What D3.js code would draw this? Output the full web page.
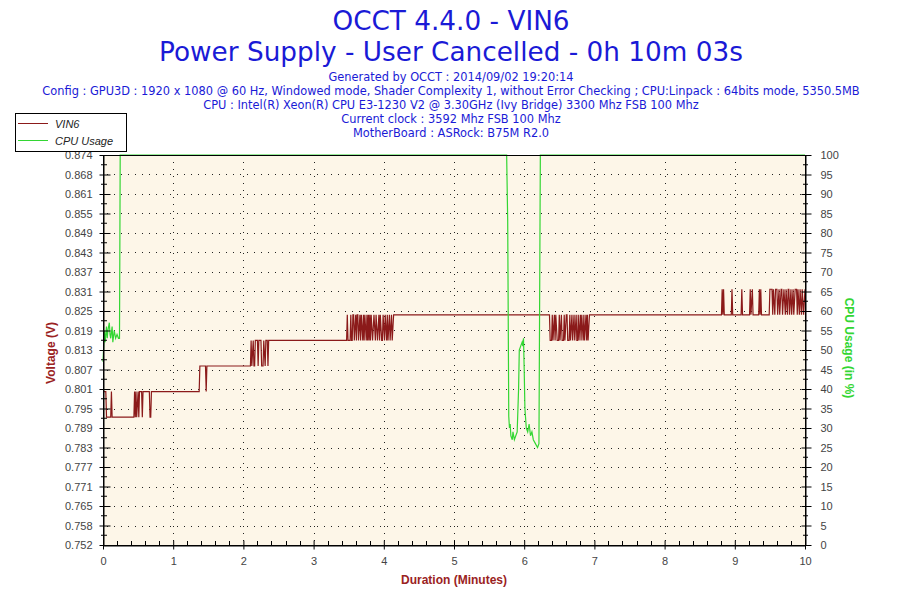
<!DOCTYPE html>
<html><head><meta charset="utf-8">
<script src="https://cdn.jsdelivr.net/npm/d3@7/dist/d3.min.js"></script>
<style>body{margin:0;background:#fff}svg{display:block}</style>
</head><body><svg id="c" width="900" height="600"></svg>
<script>
const titleLines = ["OCCT 4.4.0 - VIN6", "Power Supply - User Cancelled - 0h 10m 03s"];
const infoLines = [
  "Generated by OCCT : 2014/09/02 19:20:14",
  "Config : GPU3D : 1920 x 1080 @ 60 Hz, Windowed mode, Shader Complexity 1, without Error Checking ; CPU:Linpack : 64bits mode, 5350.5MB",
  "CPU : Intel(R) Xeon(R) CPU E3-1230 V2 @ 3.30GHz (Ivy Bridge) 3300 Mhz FSB 100 Mhz",
  "Current clock : 3592 Mhz FSB 100 Mhz",
  "MotherBoard : ASRock: B75M R2.0"
];
const seriesNames = ["VIN6", "CPU Usage"];
const voltTickLabels = ["0.752","0.758","0.765","0.771","0.777","0.783","0.789","0.795","0.801","0.807","0.813","0.819","0.825","0.831","0.837","0.843","0.849","0.855","0.861","0.868","0.874"];
const cpuTickLabels = ["0","5","10","15","20","25","30","35","40","45","50","55","60","65","70","75","80","85","90","95","100"];
const timeTickLabels = ["0","1","2","3","4","5","6","7","8","9","10"];

// VIN6 (V) samples: time in minutes, value in volts
const vinTime = [0.00,0.04,0.05,0.11,0.12,0.13,0.44,0.45,0.46,0.47,0.48,0.50,0.51,0.52,0.55,0.56,0.57,0.66,0.67,0.68,0.69,
  1.37,1.38,1.46,1.47,1.48,2.10,2.11,2.12,2.14,2.15,2.16,2.17,2.20,2.21,2.22,2.25,2.26,2.28,2.29,2.31,2.32,2.34,2.35,2.36,
  3.47,3.48,3.49,3.52,3.53,3.54,3.55,3.56,3.57,3.58,3.60,3.61,3.62,3.63,3.64,3.66,3.67,3.68,3.70,3.71,3.72,3.73,3.75,3.76,3.77,3.78,3.79,3.80,3.81,3.82,
  3.84,3.86,3.88,3.89,3.91,3.93,3.94,3.95,3.97,3.98,3.99,4.01,4.02,4.04,4.05,4.06,4.08,4.09,4.11,4.12,4.14,
  6.36,6.37,6.39,6.40,6.41,6.43,6.44,6.45,6.47,6.49,6.50,6.51,6.53,6.54,6.56,6.57,6.58,6.60,6.61,6.62,6.64,6.65,6.66,6.68,6.69,6.71,6.72,6.74,6.75,6.76,6.77,6.78,6.80,6.81,6.82,6.84,6.85,6.86,6.88,6.89,6.90,6.91,6.93,
  8.81,8.82,8.83,8.84,8.85,8.95,8.96,8.97,9.09,9.10,9.11,9.21,9.22,9.23,9.25,9.26,9.34,9.35,9.36,9.37,9.38,9.49,9.50,9.53,9.54,9.55,9.57,9.58,9.60,9.61,9.63,9.64,9.66,9.67,9.68,9.70,9.72,9.73,9.75,9.76,9.77,9.78,9.80,9.81,9.83,9.84,9.86,9.88,9.89,9.90,9.92,9.93,9.95,9.96,9.98,10.00];
const vinValue = [0.800,0.800,0.792,0.792,0.800,0.792,0.792,0.800,0.792,0.800,0.792,0.800,0.792,0.800,0.800,0.792,0.800,0.800,0.792,0.792,0.800,
  0.800,0.808,0.808,0.800,0.808,0.808,0.816,0.808,0.816,0.808,0.808,0.816,0.816,0.808,0.816,0.816,0.808,0.808,0.816,0.808,0.816,0.816,0.808,0.816,
  0.816,0.824,0.816,0.816,0.824,0.816,0.816,0.824,0.824,0.816,0.824,0.816,0.824,0.824,0.816,0.824,0.816,0.824,0.816,0.824,0.816,0.824,0.816,0.824,0.816,0.824,0.816,0.824,0.816,0.824,
  0.816,0.824,0.816,0.824,0.816,0.824,0.816,0.824,0.816,0.816,0.824,0.816,0.824,0.816,0.824,0.816,0.824,0.816,0.824,0.816,0.824,
  0.824,0.816,0.816,0.824,0.816,0.824,0.816,0.824,0.816,0.816,0.824,0.816,0.824,0.816,0.816,0.824,0.816,0.824,0.824,0.816,0.816,0.824,0.816,0.824,0.816,0.824,0.816,0.824,0.816,0.816,0.824,0.816,0.824,0.816,0.824,0.816,0.824,0.816,0.824,0.816,0.824,0.816,0.824,
  0.824,0.832,0.824,0.832,0.824,0.824,0.832,0.824,0.824,0.832,0.824,0.824,0.832,0.824,0.832,0.824,0.824,0.832,0.824,0.832,0.824,0.824,0.832,0.832,0.824,0.832,0.824,0.832,0.832,0.824,0.832,0.824,0.832,0.832,0.824,0.832,0.824,0.832,0.824,0.832,0.832,0.824,0.832,0.824,0.832,0.824,0.832,0.832,0.824,0.832,0.824,0.832,0.824,0.832,0.824,0.832];

// CPU usage (%) samples
const cpuTime = [0.00,0.02,0.03,0.05,0.06,0.07,0.09,0.10,0.11,0.13,0.14,0.16,0.18,0.20,0.22,0.235,0.24,0.245,
  5.75,5.765,5.78,5.79,5.80,5.81,5.83,5.84,5.86,5.88,5.90,5.92,5.93,5.95,5.97,5.98,5.99,6.00,6.01,6.03,6.05,6.07,6.09,6.11,6.13,6.16,6.19,6.21,6.22,6.23,10.00];
const cpuValue = [47,55,52,56,53,55,57,54,53,56,52,55,53,54,53,53,76,100,
  100,83,33,30,31,28,27,29,27,28,29,40,50,51,52,51,53,45,35,30,29,31,28,29,27,26,25,26,63,100,100];

const svg = d3.select("#c");
const X0 = 103, X1 = 805, Y0 = 155, Y1 = 545;
const vMin = 0.752, vMax = 0.874;

const x = d3.scaleLinear().domain([0, 10]).range([X0, X1]);
const yV = d3.scaleLinear().domain([vMin, vMax]).range([Y1, Y0]);
const yC = d3.scaleLinear().domain([0, 100]).range([Y1, Y0]);

const blue = "#1a1ad6", red = "#8b1a1a", green = "#33d633", axisRed = "#9a2222";

// titles
svg.selectAll("text.title").data(titleLines).enter().append("text")
  .attr("x", 451).attr("y", (d, i) => 30 + i * 31)
  .attr("text-anchor", "middle").attr("fill", blue)
  .style("font-family", "DejaVu Sans, Verdana, sans-serif").style("font-size", "26.3px").text(d => d);
svg.selectAll("text.info").data(infoLines).enter().append("text")
  .attr("x", 451).attr("y", (d, i) => 81 + i * 14)
  .attr("text-anchor", "middle").attr("fill", blue)
  .style("font-family", "DejaVu Sans, Tahoma, sans-serif").style("font-size", "11.4px").text(d => d);

// plot background
svg.append("rect").attr("x", X0).attr("y", Y0).attr("width", X1 - X0).attr("height", Y1 - Y0).attr("fill", "#fdf6e8");

// grid
const vTicks = voltTickLabels.map((d, i) => vMin + i * (vMax - vMin) / (voltTickLabels.length - 1));
const tTicks = timeTickLabels.map(d => +d);
const cTicks = cpuTickLabels.map(d => +d);
const grid = svg.append("g").attr("stroke", "#222").attr("stroke-width", 1).attr("stroke-dasharray", "1,6");
grid.selectAll("line.h").data(vTicks.slice(1, -1)).enter().append("line")
  .attr("x1", X0 + 4).attr("x2", X1).attr("y1", d => Math.round(yV(d)) + 0.5).attr("y2", d => Math.round(yV(d)) + 0.5);
grid.selectAll("line.v").data(tTicks.slice(1, -1)).enter().append("line")
  .attr("y1", Y0).attr("y2", Y1).attr("x1", d => Math.round(x(d)) + 0.5).attr("x2", d => Math.round(x(d)) + 0.5);

// series
const lineV = d3.line().x(d => x(d[0])).y(d => yV(d[1]));
const lineC = d3.line().x(d => x(d[0])).y(d => yC(d[1]));
svg.append("path").datum(vinTime.map((t, i) => [t, vinValue[i]]))
  .attr("d", lineV).attr("fill", "none").attr("stroke", red).attr("stroke-width", 1.2);
svg.append("path").datum(cpuTime.map((t, i) => [t, cpuValue[i]]))
  .attr("d", lineC).attr("fill", "none").attr("stroke", green).attr("stroke-width", 1.2);

// plot border
svg.append("rect").attr("x", X0 + 0.5).attr("y", Y0 + 0.5).attr("width", X1 - X0).attr("height", Y1 - Y0)
  .attr("fill", "none").attr("stroke", "#000");

const tickFont = g => g.selectAll("text").style("font-family", "Liberation Sans, Arial, sans-serif").style("font-size", "11px").attr("fill", "#444");

// left axis
const axL = d3.axisLeft(yV).tickValues(vTicks).tickFormat((d, i) => voltTickLabels[i]).tickSizeInner(4).tickSizeOuter(0).tickPadding(7);
const gL = svg.append("g").attr("transform", `translate(${X0 + 0.5},0)`).call(axL);
gL.select(".domain").attr("stroke", "#000");
gL.selectAll(".tick line").attr("x1", 7).attr("x2", -4).attr("stroke", "#000");
tickFont(gL);
svg.append("g").selectAll("line").data(vTicks.slice(0, -1).map((d, i) => (d + vTicks[i + 1]) / 2)).enter().append("line")
  .attr("x1", X0 - 2).attr("x2", X0 + 4).attr("y1", d => yV(d)).attr("y2", d => yV(d)).attr("stroke", "#000");

// right axis
const axR = d3.axisRight(yC).tickValues(cTicks).tickFormat((d, i) => cpuTickLabels[i]).tickSizeInner(6).tickSizeOuter(0).tickPadding(9);
const gR = svg.append("g").attr("transform", `translate(${X1 + 0.5},0)`).call(axR);
gR.select(".domain").attr("stroke", "#000");
gR.selectAll(".tick line").attr("x1", -4).attr("x2", 6).attr("stroke", "#000");
tickFont(gR);
svg.append("g").selectAll("line").data(cTicks.slice(0, -1).map(d => d + 2.5)).enter().append("line")
  .attr("x1", X1 - 2).attr("x2", X1 + 3).attr("y1", d => yC(d)).attr("y2", d => yC(d)).attr("stroke", "#000");

// bottom axis
const axB = d3.axisBottom(x).tickValues(tTicks).tickFormat((d, i) => timeTickLabels[i]).tickSizeInner(4).tickSizeOuter(0).tickPadding(8);
const gB = svg.append("g").attr("transform", `translate(0,${Y1 + 0.5})`).call(axB);
gB.select(".domain").attr("stroke", "#000");
gB.selectAll(".tick line").attr("y1", -5).attr("y2", 4).attr("stroke", "#000");
tickFont(gB);
const minorT = d3.range(0, 50).map(i => i * 0.2).filter((d, i) => i % 5 !== 0);
svg.append("g").selectAll("line").data(minorT).enter().append("line")
  .attr("x1", d => Math.round(x(d)) + 0.5).attr("x2", d => Math.round(x(d)) + 0.5).attr("y1", Y1 - 4).attr("y2", Y1 + 1).attr("stroke", "#000");

// axis titles
const bold = s => s.style("font-family", "Liberation Sans, Arial, sans-serif").style("font-size", "12px").style("font-weight", "bold");
svg.append("text").attr("transform", `translate(55,${(Y0 + Y1) / 2 + 3}) rotate(-90)`).attr("text-anchor", "middle")
  .attr("fill", axisRed).call(bold).text("Voltage (V)");
svg.append("text").attr("transform", `translate(845,${(Y0 + Y1) / 2 - 2}) rotate(90)`).attr("text-anchor", "middle")
  .attr("fill", green).call(bold).text("CPU Usage (in %)");
svg.append("text").attr("x", 454).attr("y", 584).attr("text-anchor", "middle")
  .attr("fill", axisRed).call(bold).text("Duration (Minutes)");

// legend
const lg = svg.append("g");
lg.append("rect").attr("x", 15.5).attr("y", 113.5).attr("width", 111).attr("height", 38).attr("fill", "#fff").attr("stroke", "#000");
const lcol = [red, green];
seriesNames.forEach((n, i) => {
  lg.append("line").attr("x1", 18).attr("x2", 48).attr("y1", 123.5 + i * 17).attr("y2", 123.5 + i * 17).attr("stroke", lcol[i]);
  lg.append("text").attr("x", 55).attr("y", 127.5 + i * 17).style("font-family", "Liberation Sans, Arial, sans-serif")
    .style("font-size", "11px").style("font-style", "italic").attr("fill", "#222").text(n);
});
</script></body></html>
